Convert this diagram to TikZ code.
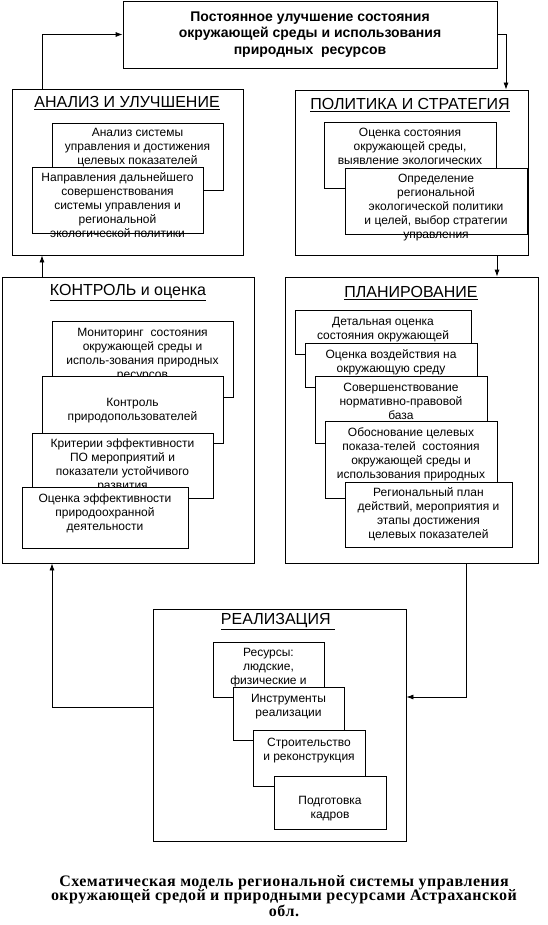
\documentclass[tikz,border=0pt]{standalone}
\usepackage{fontspec}
\setmainfont{Liberation Sans}
\newfontfamily\capfont[LetterSpace=3]{Liberation Serif}
\usetikzlibrary{arrows.meta}

\tikzset{
	outerbox/.style={draw=black, line width=0.8pt, inner sep=0pt},
	card/.style={draw=black, fill=white, line width=0.8pt, inner sep=0pt},
	cardtext/.style={anchor=north, inner sep=0pt, align=center, font=\fontsize{12}{14}\selectfont},
	boxtitle/.style={inner sep=0pt, font=\fontsize{16}{18}\selectfont},
	arr/.style={line width=0.8pt, -{Latex[length=7pt,width=5pt]}}
}

\begin{document}
\begin{tikzpicture}[x=1pt, y=-1pt]
	\useasboundingbox[fill=white] (0,0) rectangle (548,925);

	% top goal
	\node[outerbox, minimum width=374, minimum height=67, align=center,
	      font=\bfseries\fontsize{14}{16.5}\selectfont] (top) at (310,34.5)
	      {Постоянное улучшение состояния\\окружающей среды и использования\\природных\ \ ресурсов};

	% analysis
	\node[outerbox, minimum width=231, minimum height=166] (an) at (127.5,172) {};
	\node[boxtitle] (antitle) at (127,103) {\underline{АНАЛИЗ И УЛУЧШЕНИЕ}};
	\node[card, minimum width=171, minimum height=67] (an1) at (137.5,156.5) {};
	\node[cardtext] (an1t) at ([yshift=-5]an1.north) {Анализ системы\\управления и достижения\\целевых показателей};
	\node[card, minimum width=171, minimum height=66] (an2) at (117.5,200) {};
	\node[cardtext] (an2t) at ([yshift=-6]an2.north) {Направления дальнейшего\\совершенствования\\системы управления и\\региональной\\экологической политики};

	% policy
	\node[outerbox, minimum width=233, minimum height=165] (po) at (411.5,172.5) {};
	\node[boxtitle] (potitle) at (410,105) {\underline{ПОЛИТИКА И СТРАТЕГИЯ}};
	\node[card, minimum width=172, minimum height=66] (po1) at (410,155) {};
	\node[cardtext] (po1t) at ([yshift=-6]po1.north) {Оценка состояния\\окружающей среды,\\выявление экологических};
	\node[card, minimum width=182, minimum height=66] (po2) at (436,201) {};
	\node[cardtext] (po2t) at ([yshift=-6]po2.north) {Определение\\региональной\\экологической политики\\и целей, выбор стратегии\\управления};

	% control
	\node[outerbox, minimum width=252, minimum height=286] (ko) at (128,420) {};
	\node[boxtitle] (kotitle) at (128,293) {\underline{КОНТРОЛЬ и оценка}};
	\node[card, minimum width=181, minimum height=76] (ko1) at (142.5,359) {};
	\node[cardtext] (ko1t) at ([yshift=-7]ko1.north) {Мониторинг\ \ состояния\\окружающей среды и\\исполь-зования природных\\ресурсов};
	\node[card, minimum width=181, minimum height=67] (ko2) at (132.5,409.5) {};
	\node[cardtext] (ko2t) at ([yshift=-22]ko2.north) {Контроль\\природопользователей};
	\node[card, minimum width=181, minimum height=65] (ko3) at (122.5,465.5) {};
	\node[cardtext] (ko3t) at ([yshift=-6]ko3.north) {Критерии эффективности\\ПО мероприятий и\\показатели устойчивого\\развития};
	\node[card, minimum width=166, minimum height=61] (ko4) at (105,517.5) {};
	\node[cardtext] (ko4t) at ([yshift=-7]ko4.north) {Оценка эффективности\\природоохранной\\деятельности};

	% planning
	\node[outerbox, minimum width=253, minimum height=286] (pl) at (411.5,420) {};
	\node[boxtitle] (pltitle) at (411,293) {\underline{ПЛАНИРОВАНИЕ}};
	\node[card, minimum width=176, minimum height=44] (pl1) at (383,332) {};
	\node[cardtext] (pl1t) at ([yshift=-7]pl1.north) {Детальная оценка\\состояния окружающей};
	\node[card, minimum width=172, minimum height=44] (pl2) at (391,365) {};
	\node[cardtext] (pl2t) at ([yshift=-7]pl2.north) {Оценка воздействия на\\окружающую среду};
	\node[card, minimum width=172, minimum height=67] (pl3) at (401,409.5) {};
	\node[cardtext] (pl3t) at ([yshift=-7]pl3.north) {Совершенствование\\нормативно-правовой\\база};
	\node[card, minimum width=172, minimum height=77] (pl4) at (411,459.5) {};
	\node[cardtext] (pl4t) at ([yshift=-7]pl4.north) {Обоснование целевых\\показа-телей\ \ состояния\\окружающей среды и\\использования природных};
	\node[card, minimum width=167, minimum height=65] (pl5) at (428.5,514.5) {};
	\node[cardtext] (pl5t) at ([yshift=-6]pl5.north) {Региональный план\\действий, мероприятия и\\этапы достижения\\целевых показателей};

	% realization
	\node[outerbox, minimum width=253, minimum height=232] (re) at (279.5,725) {};
	\node[boxtitle] (retitle) at (278,622) {\underline{РЕАЛИЗАЦИЯ\ }};
	\node[card, minimum width=111, minimum height=55] (re1) at (268.5,669.5) {};
	\node[cardtext] (re1t) at ([yshift=-6]re1.north) {Ресурсы:\\людские,\\физические и};
	\node[card, minimum width=111, minimum height=53] (re2) at (288.5,713.5) {};
	\node[cardtext] (re2t) at ([yshift=-7]re2.north) {Инструменты\\реализации};
	\node[card, minimum width=112, minimum height=56] (re3) at (309,758) {};
	\node[cardtext] (re3t) at ([yshift=-8]re3.north) {Строительство\\и реконструкция};
	\node[card, minimum width=112, minimum height=53] (re4) at (330,802.5) {};
	\node[cardtext] (re4t) at ([yshift=-20]re4.north) {Подготовка\\кадров};

	% connectors
	\coordinate (la) at (42,0);
	\coordinate (ra) at (506,0);
	\coordinate (rb) at (497,0);
	\coordinate (rc) at (466,697);
	\coordinate (lc) at (52,707);
	\draw[arr] (an.north -| la) |- (top.west);
	\draw[arr] (top.east) -| (po.north -| ra);
	\draw[arr] (po.south -| rb) -- (pl.north -| rb);
	\draw[arr] (pl.south -| rc) |- (re.east |- rc);
	\draw[arr] (re.west |- lc) -| (ko.south -| lc);
	\draw[arr] (ko.north -| la) -- (an.south -| la);

	% caption
	\node[inner sep=0pt, align=center, font=\capfont\bfseries\fontsize{16}{14.5}\selectfont] (caption) at (284,896)
	      {Схематическая модель региональной системы управления\\окружающей средой и природными ресурсами Астраханской\\обл.};
\end{tikzpicture}
\end{document}
